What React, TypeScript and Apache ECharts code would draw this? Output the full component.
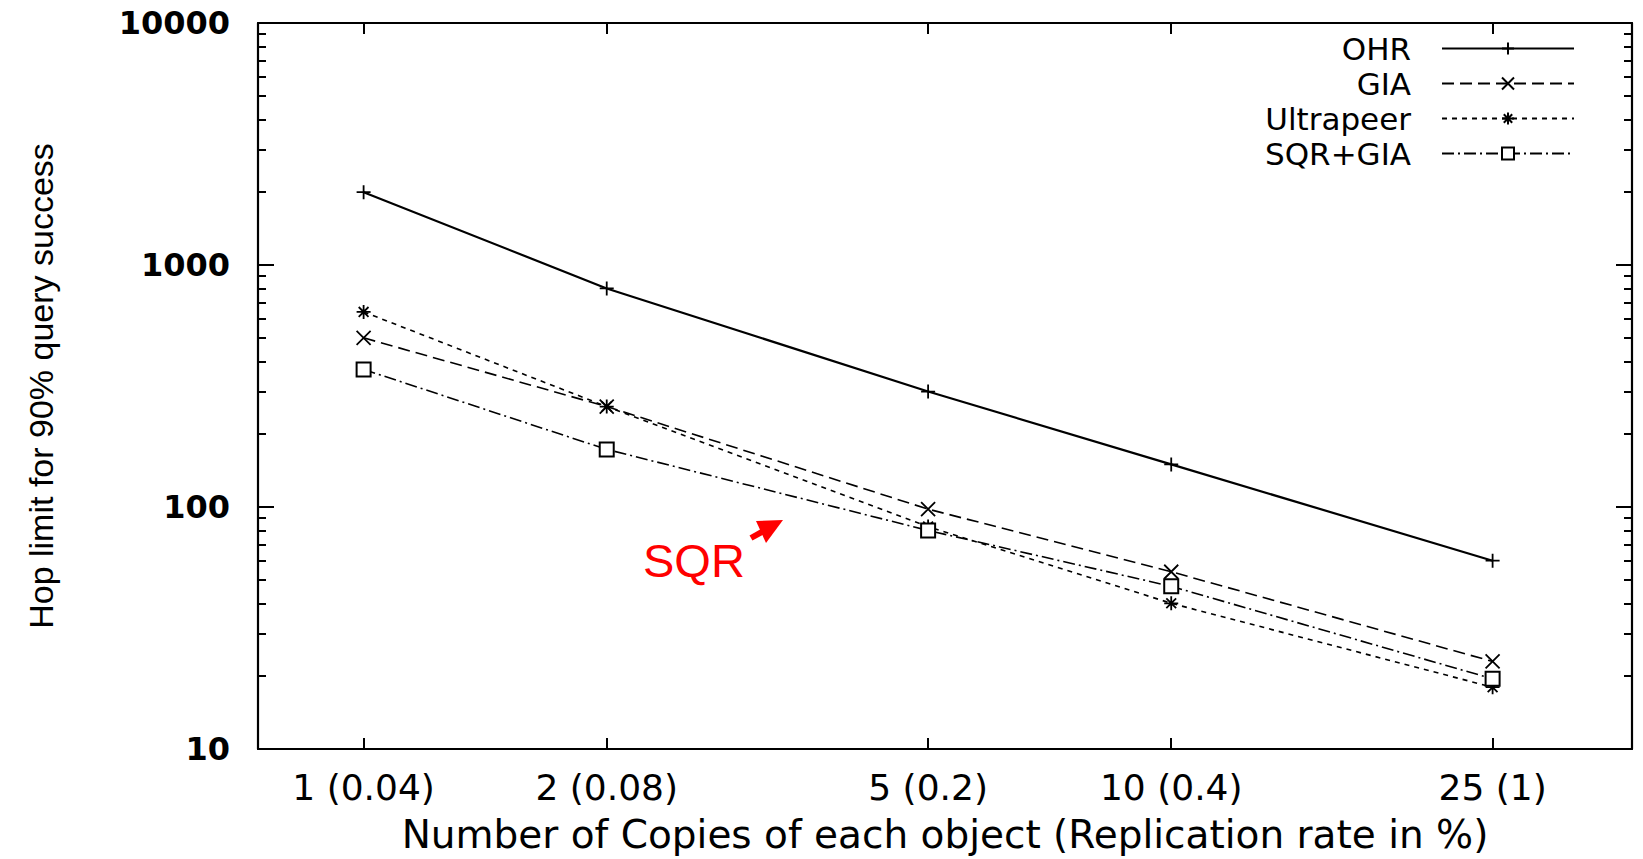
import React, { useEffect, useRef } from 'react';
import * as echarts from 'echarts';

// ---- data ----
const copies = [1, 2, 5, 10, 25];
const xTickLabels = ['1 (0.04)', '2 (0.08)', '5 (0.2)', '10 (0.4)', '25 (1)'];
const yMajorTicks = [10, 100, 1000, 10000];
const yMinorTicks = [20, 30, 40, 50, 60, 70, 80, 90, 200, 300, 400, 500, 600, 700, 800, 900, 2000, 3000, 4000, 5000, 6000, 7000, 8000, 9000];
const seriesNames = ['OHR', 'GIA', 'Ultrapeer', 'SQR+GIA'];
const ohr = [2000, 800, 300, 150, 60];
const gia = [500, 260, 98, 54, 23];
const ultrapeer = [640, 260, 83, 40, 18];
const sqrGia = [370, 173, 80, 47, 19.5];

const X_MIN = 0.74;
const X_MAX = 37.2;
const Y_MIN = 10;
const Y_MAX = 10000;

const PLUS = 'path://M0,5L10,5M5,0L5,10';
const CROSS = 'path://M0,0L10,10M0,10L10,0';
const STAR = 'path://M0,5L10,5M5,0L5,10M1.5,1.5L8.5,8.5M1.5,8.5L8.5,1.5';

function xLabel(v: number): string {
  let i = copies.findIndex((c) => Math.abs(c - v) < 1e-6 * c);
  if (i < 0) i = copies.findIndex((c) => Math.abs(Math.log10(c) - v) < 1e-6);
  return i >= 0 ? xTickLabels[i] : '';
}

function pairs(vals: number[]) {
  return copies.map((c, i) => [c, vals[i]]);
}

export default function App() {
  const ref = useRef<HTMLDivElement>(null);

  useEffect(() => {
    if (!ref.current) return;
    const chart = echarts.init(ref.current, undefined, { renderer: 'svg' });
    const axisLine = { show: true, lineStyle: { color: '#000', width: 2.2 } };
    const tickStyle = { color: '#000', width: 2 };
    const baseSeries = (name: string, vals: number[], symbol: string, lineType: any, width: number) => ({
      name,
      type: 'line',
      xAxisIndex: 0,
      yAxisIndex: 0,
      data: pairs(vals),
      symbol,
      symbolSize: 14,
      showSymbol: true,
      lineStyle: { color: '#000', width, type: lineType },
      itemStyle: { color: '#000', borderColor: '#000', borderWidth: 1.8 },
      emphasis: { disabled: true },
      z: 3,
    });
    const yBase = { type: 'log', logBase: 10, min: Y_MIN, max: Y_MAX, splitLine: { show: false } };
    const option: any = {
      animation: false,
      backgroundColor: '#fff',
      grid: { left: 258, right: 11, top: 23, bottom: 109, containLabel: false },
      xAxis: [
        {
          type: 'log',
          logBase: 10,
          min: X_MIN,
          max: X_MAX,
          position: 'bottom',
          name: 'Number of Copies of each object (Replication rate in %)',
          nameLocation: 'middle',
          nameGap: 66,
          nameTextStyle: { fontFamily: 'DejaVu Sans', fontSize: 39, color: '#000' },
          axisLine,
          axisTick: { show: true, inside: true, length: 11, customValues: copies, lineStyle: tickStyle },
          axisLabel: {
            show: true,
            customValues: copies,
            formatter: xLabel,
            margin: 20,
            fontFamily: 'DejaVu Sans',
            fontSize: 36,
            color: '#000',
          },
          splitLine: { show: false },
        },
        {
          type: 'log',
          logBase: 10,
          min: X_MIN,
          max: X_MAX,
          position: 'top',
          axisLine,
          axisTick: { show: true, inside: true, length: 11, customValues: copies, lineStyle: tickStyle },
          axisLabel: { show: false },
          splitLine: { show: false },
        },
      ],
      yAxis: [
        {
          ...yBase,
          position: 'left',
          name: 'Hop limit for 90% query success',
          nameLocation: 'middle',
          nameGap: 200,
          nameTextStyle: { fontFamily: 'Liberation Sans', fontSize: 34, color: '#000' },
          axisLine,
          axisTick: { show: true, inside: true, length: 16, customValues: yMajorTicks, lineStyle: tickStyle },
          axisLabel: {
            show: true,
            customValues: yMajorTicks,
            margin: 28,
            formatter: (v: number) => String(Math.round(v)),
            fontFamily: 'DejaVu Sans',
            fontWeight: 'bold',
            fontSize: 32,
            color: '#000',
          },
        },
        {
          ...yBase,
          position: 'right',
          axisLine,
          axisTick: { show: true, inside: true, length: 16, customValues: yMajorTicks, lineStyle: tickStyle },
          axisLabel: { show: false },
        },
        {
          ...yBase,
          position: 'left',
          axisLine: { show: false },
          axisTick: { show: true, inside: true, length: 8, customValues: yMinorTicks, lineStyle: tickStyle },
          axisLabel: { show: false },
        },
        {
          ...yBase,
          position: 'right',
          axisLine: { show: false },
          axisTick: { show: true, inside: true, length: 8, customValues: yMinorTicks, lineStyle: tickStyle },
          axisLabel: { show: false },
        },
      ],
      legend: {
        show: true,
        data: seriesNames,
        orient: 'vertical',
        align: 'right',
        right: 68,
        top: 31,
        padding: 0,
        itemGap: 0,
        itemWidth: 132,
        itemHeight: 15,
        selectedMode: false,
        textStyle: {
          fontFamily: 'DejaVu Sans',
          fontSize: 31,
          color: '#000',
          lineHeight: 35,
          padding: [0, 26, 0, 0],
        },
      },
      series: [
        baseSeries('OHR', ohr, PLUS, 'solid', 2.2),
        baseSeries('GIA', gia, CROSS, [12, 6], 1.6),
        baseSeries('Ultrapeer', ultrapeer, STAR, [5, 5], 1.6),
        baseSeries('SQR+GIA', sqrGia, 'emptyRect', [12, 4, 2, 4], 1.6),
      ],
      graphic: [
        {
          type: 'text',
          x: 643,
          y: 560,
          style: {
            text: 'SQR',
            fill: '#ff0000',
            fontFamily: 'Liberation Sans',
            fontSize: 47,
            align: 'left',
            verticalAlign: 'middle',
          },
        },
        {
          type: 'line',
          shape: { x1: 751, y1: 538, x2: 767, y2: 529 },
          style: { stroke: '#ff0000', lineWidth: 6 },
        },
        {
          type: 'polygon',
          shape: { points: [[783, 520], [756, 521], [766, 543]] },
          style: { fill: '#ff0000' },
        },
      ],
    };
    chart.setOption(option);
    return () => chart.dispose();
  }, []);

  return (
    <div
      ref={ref}
      style={{ position: 'fixed', left: 0, top: 0, width: 1643, height: 859, background: '#fff' }}
    />
  );
}
